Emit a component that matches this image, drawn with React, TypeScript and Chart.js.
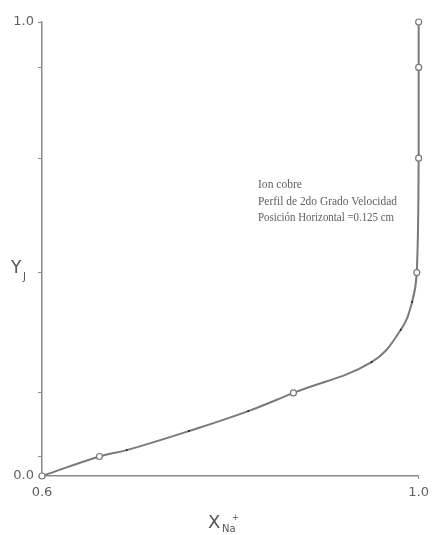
import { useEffect, useRef } from 'react';
import { Chart, registerables } from 'chart.js';

Chart.register(...registerables);

// Curve points (X_Na+, Y_J)
const xValues = [0.6, 0.661, 0.69, 0.756, 0.819, 0.867, 0.95, 0.981, 0.993, 0.998, 1.0, 1.0, 1.0];
const yValues = [0, 0.043, 0.057, 0.099, 0.143, 0.183, 0.251, 0.322, 0.383, 0.448, 0.7, 0.9, 1.0];
const markerKinds = ['circle', 'circle', 'dot', 'dot', 'dot', 'circle', 'dot', 'dot', 'dot', 'circle', 'circle', 'circle', 'circle'];

const xTicks = [0.6, 1.0];
const xTickLabels = ['0.6', '1.0'];
const yTicks = [0, 0.043, 0.183, 0.448, 0.7, 0.9, 1.0];
const yLabelled: Record<string, string> = { '0': '0.0', '1': '1.0' };

const noteLines = ['Ion cobre', 'Perfil de 2do Grado Velocidad', 'Posición Horizontal =0.125 cm'];
const noteWidths = [44, 139, 136];

const AXIS = '#8a8a8a';
const INK = '#606060';

const textPlugin = {
  id: 'textPlugin',
  afterDraw(chart: any) {
    const ctx = chart.ctx as CanvasRenderingContext2D;
    ctx.save();
    ctx.fillStyle = INK;
    ctx.textBaseline = 'alphabetic';
    ctx.textAlign = 'left';
    // annotation
    ctx.font = "12px 'Liberation Serif'";
    noteLines.forEach((t, i) => {
      ctx.fillText(t, 258, 188 + i * 16.5, noteWidths[i]);
    });
    // Y axis title
    ctx.fillStyle = '#555';
    ctx.font = "17px 'DejaVu Sans'";
    ctx.fillText('Y', 11, 273);
    ctx.font = "10px 'DejaVu Sans'";
    ctx.fillText('J', 23, 280);
    // X axis title
    ctx.font = "18px 'DejaVu Sans'";
    ctx.fillText('X', 208, 528);
    ctx.font = "10px 'DejaVu Sans'";
    ctx.fillText('Na', 222, 532);
    ctx.font = "8px 'DejaVu Sans'";
    ctx.fillText('+', 232, 520);
    ctx.restore();
  },
};

export default function App() {
  const ref = useRef<HTMLCanvasElement>(null);
  useEffect(() => {
    const data = xValues.map((x, i) => ({ x, y: yValues[i] }));
    const chart = new Chart(ref.current!, {
      type: 'scatter',
      data: {
        datasets: [
          {
            data,
            showLine: true,
            tension: 0.4,
            borderColor: '#7a7a7a',
            borderWidth: 2,
            clip: false as any,
            pointRadius: markerKinds.map((k) => (k === 'circle' ? 3 : 1)),
            pointBorderWidth: markerKinds.map((k) => (k === 'circle' ? 1.2 : 0)),
            pointBorderColor: '#777',
            pointBackgroundColor: markerKinds.map((k) => (k === 'circle' ? '#ffffff' : '#222')),
          } as any,
        ],
      },
      options: {
        responsive: false,
        animation: false,
        maintainAspectRatio: false,
        layout: { padding: { left: 0, right: 13, top: 22, bottom: 0 } },
        plugins: { legend: { display: false }, tooltip: { enabled: false } },
        scales: {
          x: {
            type: 'linear',
            min: 0.6,
            max: 1.0,
            afterBuildTicks: (s: any) => {
              s.ticks = xTicks.map((v) => ({ value: v }));
            },
            afterFit: (s: any) => {
              s.height = 59;
            },
            ticks: {
              autoSkip: false,
              maxRotation: 0,
              padding: 6,
              color: INK,
              font: { family: "'DejaVu Sans'", size: 13 },
              callback: (v: any) => xTickLabels[xTicks.indexOf(Number(v))] ?? '',
            },
            grid: { drawOnChartArea: false, drawTicks: true, tickLength: 3, color: AXIS },
            border: { color: AXIS, width: 1.5 },
          },
          y: {
            type: 'linear',
            min: 0,
            max: 1,
            afterBuildTicks: (s: any) => {
              s.ticks = yTicks.map((v) => ({ value: v }));
            },
            afterFit: (s: any) => {
              s.width = 42;
            },
            ticks: {
              autoSkip: false,
              padding: 4,
              color: INK,
              font: { family: "'DejaVu Sans'", size: 13 },
              callback: (v: any) => yLabelled[String(v)] ?? '',
            },
            grid: { drawOnChartArea: false, drawTicks: true, tickLength: 4, color: AXIS },
            border: { color: AXIS, width: 1.5 },
          },
        },
      },
      plugins: [textPlugin],
    });
    return () => chart.destroy();
  }, []);
  return (
    <div style={{ position: 'absolute', left: 0, top: 0, width: 435, height: 535, background: '#fff' }}>
      <canvas ref={ref} width={435} height={535} style={{ width: 435, height: 535, display: 'block' }} />
    </div>
  );
}
